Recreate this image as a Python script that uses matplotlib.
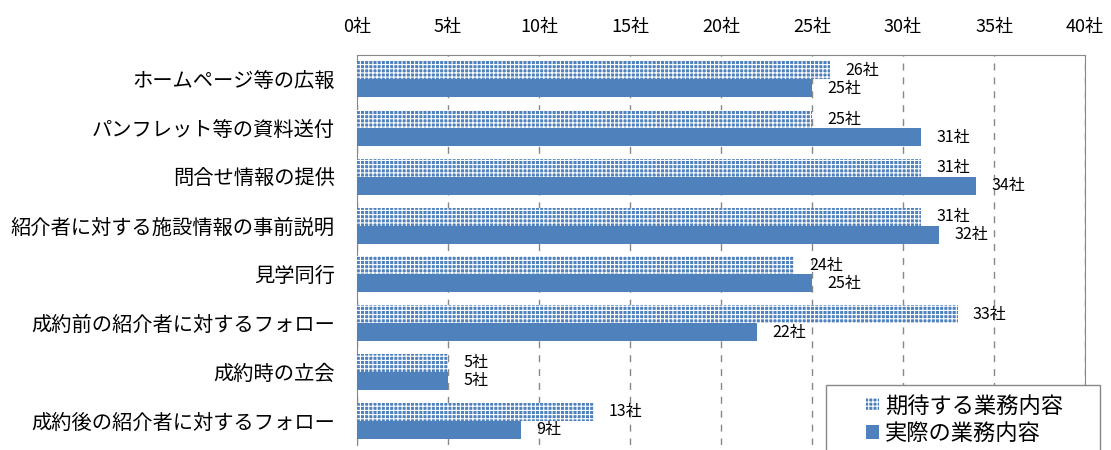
import matplotlib
matplotlib.use("Agg")
import matplotlib.pyplot as plt
from matplotlib.patches import Rectangle
import numpy as np

plt.rcParams['font.family'] = ['Noto Sans CJK JP', 'DejaVu Sans']
plt.rcParams['hatch.linewidth'] = 0.8

# データ
categories = [
    "ホームページ等の広報",
    "パンフレット等の資料送付",
    "問合せ情報の提供",
    "紹介者に対する施設情報の事前説明",
    "見学同行",
    "成約前の紹介者に対するフォロー",
    "成約時の立会",
    "成約後の紹介者に対するフォロー",
]
expected = [26, 25, 31, 31, 24, 33, 5, 13]
actual = [25, 31, 34, 32, 25, 22, 5, 9]
series_names = ["期待する業務内容", "実際の業務内容"]
xticks = [0, 5, 10, 15, 20, 25, 30, 35, 40]

blue = "#4F81BD"
W, H = 1111, 450

fig = plt.figure(figsize=(W / 100, H / 100), dpi=100)
ax = fig.add_axes([357 / W, 1 - 445 / H, (1085 - 357) / W, (445 - 55) / H])

y = np.arange(len(categories))
h = 0.37

b1 = ax.barh(y - h / 2, expected, height=h, color=blue, edgecolor="white",
             linewidth=0, hatch="++++", label=series_names[0], zorder=3)
b2 = ax.barh(y + h / 2, actual, height=h, color=blue, linewidth=0,
             label=series_names[1], zorder=3)

# データラベル
for yy, v in zip(y, expected):
    ax.annotate(f"{v}社", (v, yy - h / 2), xytext=(11, 0), textcoords="offset points",
                va="center", ha="left", fontsize=11.5)
for yy, v in zip(y, actual):
    ax.annotate(f"{v}社", (v, yy + h / 2), xytext=(11, 0), textcoords="offset points",
                va="center", ha="left", fontsize=11.5)

ax.set_xlim(0, 40)
ax.set_ylim(len(categories) - 0.5, -0.5)
ax.set_xticks(xticks)
ax.set_xticklabels([f"{t}社" for t in xticks], fontsize=13)
ax.xaxis.tick_top()
ax.tick_params(axis="x", length=0, pad=14)
ax.set_yticks(y)
ax.set_yticklabels(categories, fontsize=14.6)
ax.tick_params(axis="y", length=0, pad=16)

ax.grid(axis="x", color="#888888", linestyle=(0, (5, 5)), linewidth=1, zorder=0)
for s in ["top", "right", "left"]:
    ax.spines[s].set_color("#888888")
ax.spines["bottom"].set_visible(False)

# 凡例の枠
frame = Rectangle((826 / W, -0.02), (1100 - 826) / W, 1 - 385 / H + 0.02,
                  transform=fig.transFigure, facecolor="white", edgecolor="#888888",
                  linewidth=1, zorder=4)
fig.add_artist(frame)

leg = fig.legend(handles=[b1, b2], labels=series_names, loc="upper left",
                 bbox_to_anchor=(862 / W, 1 - 390 / H),
                 frameon=False, fontsize=16, handlelength=0.55, handleheight=0.55,
                 handletextpad=0.3, borderpad=0.2, labelspacing=0.2, borderaxespad=0)
leg.set_zorder(5)

plt.savefig("out.png", dpi=100)
plt.close()
